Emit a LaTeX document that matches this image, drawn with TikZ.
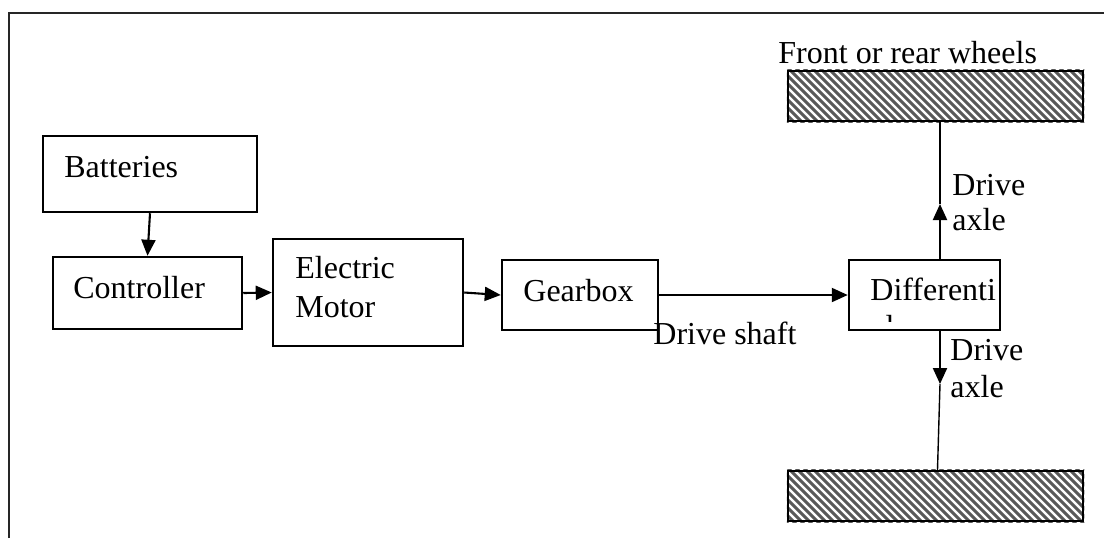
\documentclass[tikz,border=0pt]{standalone}
\usepackage{fontspec}
\setmainfont{Liberation Serif}
\usetikzlibrary{arrows.meta}
\tikzset{
  x=0.5pt, y=-0.5pt,
  box/.style={draw=black, line width=1.25pt, rectangle, inner sep=0pt, fill=white},
  wheel/.style={draw=black, line width=1.25pt, rectangle, inner sep=0pt},
  lbl/.style={anchor=base west, inner sep=0pt, font=\fontsize{16}{19}\selectfont},
  arr/.style={line width=1.05pt, -{Triangle[length=8pt,width=7pt]}},
  thinline/.style={line width=0.7pt},
  hatch/.style={line width=1.5pt, draw=black!65},
  frame/.style={line width=1.2pt, draw=black!85}
}
\begin{document}
\begin{tikzpicture}
\useasboundingbox (0,0) rectangle (1104,538);
\draw[frame] (9,538) -- (9,13) -- (1104,13);

% boxes
\node[box, minimum width=107pt, minimum height=38pt] (bat) at (150,174) {};
\node[box, minimum width=94.5pt, minimum height=36pt] (ctl) at (147.5,293) {};
\node[box, minimum width=95pt, minimum height=53.5pt] (mot) at (368,292.5) {};
\node[box, minimum width=78pt, minimum height=35pt] (gear) at (580,295) {};
\node[box, minimum width=75.5pt, minimum height=35pt] (diff) at (924.5,295) {};
\node[wheel, minimum width=147.5pt, minimum height=25pt] (wt) at (935.5,96) {};
\node[wheel, minimum width=147.5pt, minimum height=25pt] (wb) at (935.5,496) {};

% hatching of wheels
\begin{scope}
\clip (wt.south west) rectangle (wt.north east);
\foreach \x in {730,738,...,1090} \draw[hatch] (\x,66) -- (\x+60,126);
\end{scope}
\begin{scope}
\clip (wb.south west) rectangle (wb.north east);
\foreach \x in {730,738,...,1090} \draw[hatch] (\x,466) -- (\x+60,526);
\end{scope}
\node[wheel, minimum width=147.5pt, minimum height=25pt] at (wt) {};
\node[wheel, minimum width=147.5pt, minimum height=25pt] at (wb) {};

% labels
\node[lbl] (tbat) at (64,177) {Batteries};
\node[lbl] (tctl) at (73,298) {Controller};
\node[lbl] (tmot1) at (295,278) {Electric};
\node[lbl] (tmot2) at (295,317) {Motor};
\node[lbl] (tgear) at (523,301) {Gearbox};
\node[lbl] (tdiff) at (870,300) {Differenti};
\begin{scope}
\clip (860,300) rectangle (990,321);
\node[lbl] (tdiff2) at (871,337) {al};
\end{scope}
\node[lbl] (tshaft) at (653,344) {Drive shaft};
\node[lbl] (twheels) at (778,63) {Front or rear wheels};
\node[lbl] (tax1) at (952,195) {Drive};
\node[lbl] (tax2) at (952,230) {axle};
\node[lbl] (tax3) at (950,360) {Drive};
\node[lbl] (tax4) at (950,397) {axle};

% connectors
\coordinate (upA) at (940,204);
\coordinate (dnA) at (940,384);
\draw[arr] (bat.south) -- (ctl.north);
\draw[arr] (ctl.east) -- (mot.west);
\draw[arr] (mot.east) -- (gear.west);
\draw[arr] (gear.east) -- (diff.west);
\draw[arr] (diff.north -| upA) -- (upA);
\draw[thinline] (upA) -- (upA |- wt.south);
\draw[arr] (diff.south -| dnA) -- (dnA);
\draw[thinline] (dnA) -- ([xshift=1pt]wb.north);
\end{tikzpicture}
\end{document}
